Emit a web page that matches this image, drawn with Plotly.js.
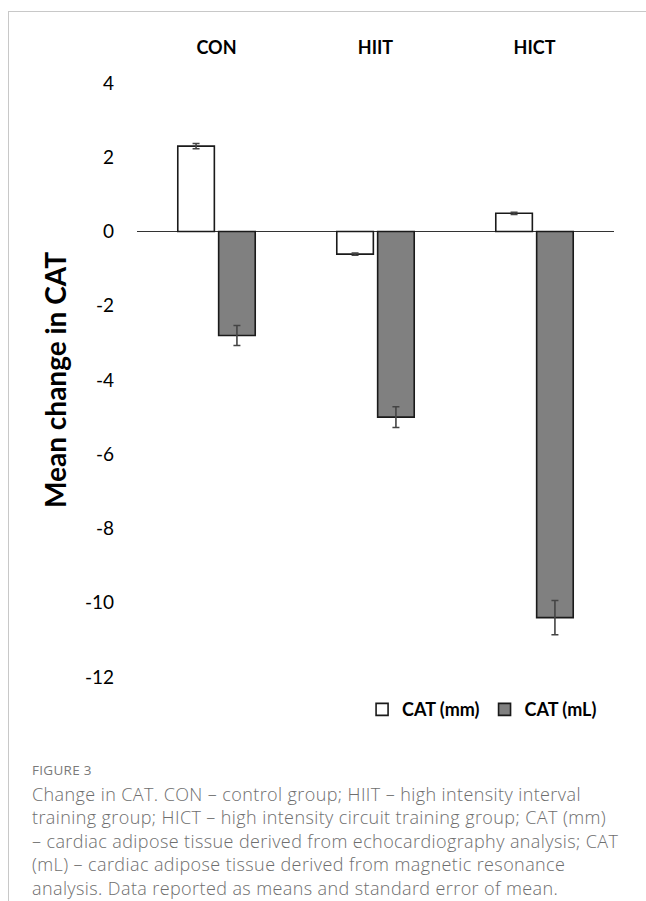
<!DOCTYPE html>
<html>
<head>
<meta charset="utf-8">
<script src="https://cdn.plot.ly/plotly-3.0.1.min.js"></script>
<style>
  html, body { margin: 0; padding: 0; background: #fff; width: 646px; height: 901px; overflow: hidden; }
  #frame { position: absolute; left: 8px; top: 11px; width: 640px; height: 892px;
           border-top: 1px solid #c8c8c8; border-left: 1px solid #c8c8c8; }
  #chart { position: absolute; left: 0; top: 0; width: 646px; height: 740px; }
  #figlabel { position: absolute; left: 32px; top: 762px; font-family: "Open Sans", sans-serif;
              font-size: 13.5px; line-height: 16px; color: #7a7a7a; letter-spacing: 0.3px; }
  #caption { position: absolute; left: 32px; top: 783px; width: 614px; font-family: "Open Sans", sans-serif;
             font-size: 18px; line-height: 23.4px; color: #6e6e6e; font-weight: 300; white-space: nowrap;
             letter-spacing: 0.4px; }
</style>
</head>
<body>
<div id="frame"></div>
<div id="chart"></div>
<div id="figlabel">FIGURE 3</div>
<div id="caption">Change in CAT. CON – control group; HIIT – high intensity interval<br>training group; HICT – high intensity circuit training group; CAT (mm)<br>– cardiac adipose tissue derived from echocardiography analysis; CAT<br>(mL) – cardiac adipose tissue derived from magnetic resonance<br>analysis. Data reported as means and standard error of mean.</div>
<script>
const categories = ["CON", "HIIT", "HICT"];
const catMm = [2.30, -0.61, 0.49];
const catMmErr = [0.07, 0.03, 0.03];
const catMl = [-2.80, -5.00, -10.40];
const catMlErr = [0.27, 0.28, 0.46];
const yTicks = [4, 2, 0, -2, -4, -6, -8, -10, -12];

const errStyle = { type: "data", visible: true, color: "#444444", thickness: 1.6, width: 3.5 };

const traces = [
  {
    type: "bar", name: "CAT (mm)", x: categories, y: catMm,
    error_y: Object.assign({ array: catMmErr }, errStyle),
    marker: { color: "#ffffff", line: { color: "#1a1a1a", width: 1.6 } }
  },
  {
    type: "bar", name: "CAT (mL)", x: categories, y: catMl,
    error_y: Object.assign({ array: catMlErr }, errStyle),
    marker: { color: "#808080", line: { color: "#1a1a1a", width: 1.6 } }
  }
];

const layout = {
  width: 646, height: 740,
  margin: { l: 137, r: 32, t: 83, b: 61 },
  paper_bgcolor: "rgba(0,0,0,0)", plot_bgcolor: "rgba(0,0,0,0)",
  barmode: "group", bargap: 0.486, bargroupgap: 0.105,
  showlegend: true,
  legend: {
    orientation: "h", x: 0.975, xanchor: "right", y: -0.055, yanchor: "middle",
    font: { family: "Lato, 'Open Sans', sans-serif", size: 18, color: "#000", weight: "bold" },
    itemwidth: 30, tracegroupgap: 0
  },
  xaxis: {
    side: "top", showline: false, showgrid: false, zeroline: false,
    ticks: "", ticklabelstandoff: 24,
    tickfont: { family: "Lato, 'Open Sans', sans-serif", size: 18, color: "#000", weight: "bold" }
  },
  yaxis: {
    range: [-12, 4], tickvals: yTicks, ticktext: yTicks.map(String),
    showline: false, showgrid: false,
    zeroline: true, zerolinecolor: "#333333", zerolinewidth: 1.4,
    ticks: "", ticklabelstandoff: 22,
    tickfont: { family: "Lato, 'Open Sans', sans-serif", size: 19, color: "#000" },
    title: { text: "Mean change in CAT", standoff: 10,
             font: { family: "Lato, 'Open Sans', sans-serif", size: 28, color: "#000", weight: "bold" } }
  }
};

Plotly.newPlot("chart", traces, layout, { displayModeBar: false, staticPlot: true });
</script>
</body>
</html>
